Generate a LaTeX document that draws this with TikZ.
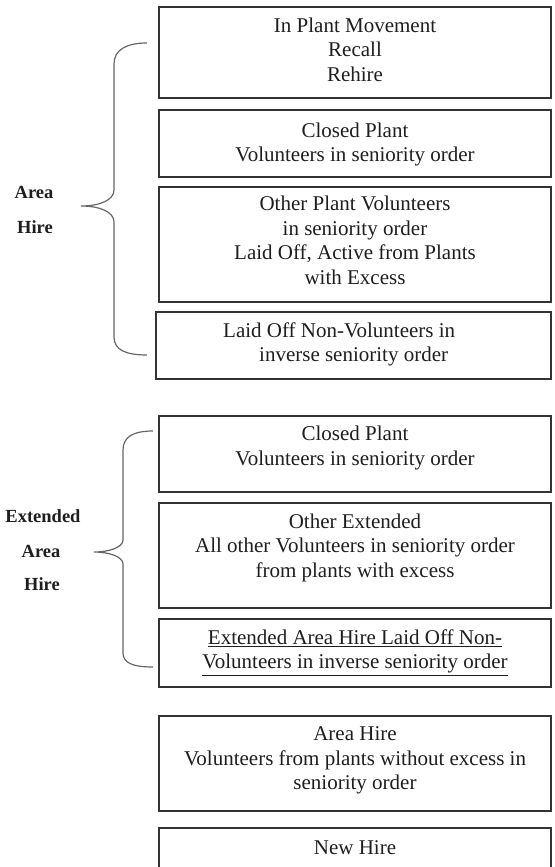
\documentclass[tikz,border=0pt]{standalone}
\usepackage{fontspec}
\setmainfont{Liberation Serif}
\definecolor{boxc}{HTML}{333333}
\definecolor{txtc}{HTML}{1E1E1E}
\definecolor{bracec}{HTML}{666666}
\begin{document}
\begin{tikzpicture}[x=1pt,y=-1pt,
  box/.style={draw=boxc, line width=1.6pt, inner sep=0pt, outer sep=0pt, rectangle, minimum width=392pt},
  txt/.style={align=center, inner sep=0pt, text=txtc, font=\fontsize{21}{24.5}\selectfont,
    execute at begin node=\strut, execute at end node=\strut},
  lbl/.style={font=\bfseries\fontsize{18.5}{22}\selectfont, inner sep=0pt, text=txtc},
  brace/.style={draw=bracec, line width=1.2pt}]
\useasboundingbox (0,0) rectangle (554,867);
\clip (0,0) rectangle (554,867);
% boxes
\node[box, minimum height=91pt] (b1) at (355,52.5) {};
\node[box, minimum height=67pt] (b2) at (355,143.5) {};
\node[box, minimum height=115pt] (b3) at (355,244.5) {};
\node[box, minimum width=395pt, minimum height=67pt] (b4) at (353.5,345.5) {};
\node[box, minimum height=76pt] (b5) at (355,454) {};
\node[box, minimum height=105pt] (b6) at (355,555.5) {};
\node[box, minimum height=68pt] (b7) at (355,653) {};
\node[box, minimum height=95pt] (b8) at (355,763.5) {};
\node[box, minimum height=72pt] (b9) at (355,864) {};
% texts
\node[txt] (t1) at (355,53) {In Plant Movement\\Recall\\Rehire};
\node[txt] (t2) at (355,146) {Closed Plant\\Volunteers in seniority order};
\node[txt] (t3) at (355,244) {Other Plant Volunteers\\in seniority order\\Laid Off, Active from Plants\\with Excess};
\node[txt, align=left, anchor=west] (t4) at (223,346) {Laid Off Non-Volunteers in\\\hspace*{36pt}inverse seniority order};
\node[txt] (t5) at (355,449.5) {Closed Plant\\Volunteers in seniority order};
\node[txt] (t6) at (355,549) {Other Extended\\All other Volunteers in seniority order\\from plants with excess};
\node[txt] (t7) at (355,653) {\underline{Extended Area Hire Laid Off Non-}\\\underline{Volunteers in inverse seniority order}};
\node[txt] (t8) at (355,762) {Area Hire\\Volunteers from plants without excess in\\seniority order};
\node[txt] (t9) at (355,850) {New Hire};
% labels
\node[lbl] (la1) at (34,192) {Area};
\node[lbl] (la2) at (35,227) {Hire};
\node[lbl] (le1) at (43,516) {Extended};
\node[lbl] (le2) at (41,551) {Area};
\node[lbl] (le3) at (42,584) {Hire};
% braces
\draw[brace] (147,43) .. controls (126,43) and (114,50) .. (114,64) -- (114,190)
  .. controls (114,200) and (100,206) .. (81,206)
  .. controls (100,206) and (114,212) .. (114,222) -- (114,337)
  .. controls (114,350) and (126,355) .. (147,355);
\draw[brace] (153,431) .. controls (133,431) and (123,437) .. (123,450) -- (123,540)
  .. controls (123,547) and (110,552) .. (94,552)
  .. controls (110,552) and (123,557) .. (123,564) -- (123,653)
  .. controls (123,663) and (133,667) .. (153,667);
\end{tikzpicture}
\end{document}
